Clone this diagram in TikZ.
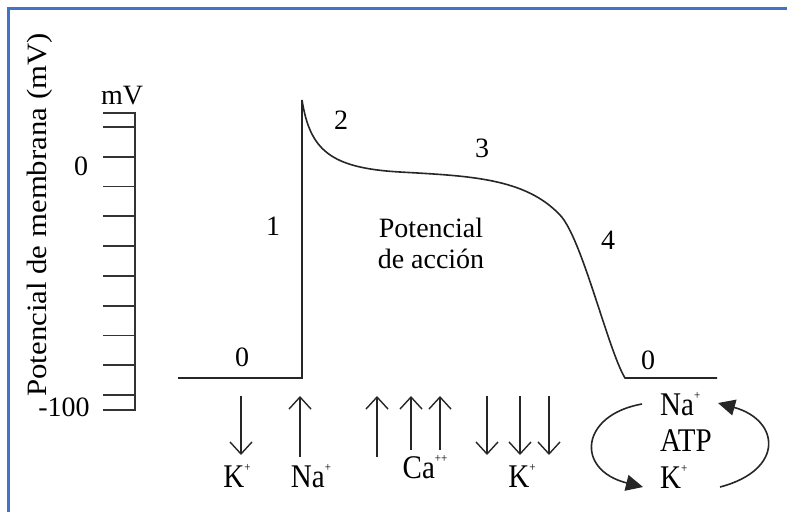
\documentclass[tikz,border=0pt]{standalone}
\usepackage{fontspec}
\setmainfont{Liberation Serif}
\usepackage{graphicx}
\usetikzlibrary{arrows.meta,positioning}

\definecolor{framebl}{RGB}{68,114,196}
\newcommand{\ionp}[1]{#1\raisebox{1.05ex}{\fontsize{11}{11}\selectfont +}}
\newcommand{\ionlbl}[1]{\scalebox{1}[1.14]{#1}}

\begin{document}
\begin{tikzpicture}[
    x=1pt, y=-1pt,
    lbl/.style={inner sep=0pt, font=\fontsize{28}{31}\selectfont},
    ionlab/.style={inner sep=0pt, font=\fontsize{29}{31}\selectfont},
    wave/.style={line width=1.6pt, draw=black!85},
    axisline/.style={line width=1.8pt, draw=black!80},
    ionarr/.style={-{Straight Barb[length=12pt, width=22pt, line width=1.4pt]}, line width=1.4pt, draw=black!85},
    pumparr/.style={-{Triangle[length=17pt, width=16pt]}, line width=1.6pt, draw=black!85}
]
    \useasboundingbox (0,0) rectangle (787,512);
    % frame
    \draw[framebl, line width=3pt] (8,512) -- (8,8) -- (787,8);

    % scale
    \draw[axisline] (103,113) -- (135,113) -- (135,410) -- (103,410);
    \foreach \i in {0,...,9}
        \draw[axisline] (103,127+\i*29.78) -- (135,127+\i*29.78);
    \node[lbl] (mv) at (122,96) {mV};
    \node[lbl] (zero) at (81,166) {0};
    \node[lbl] (minus) at (64,407) {-100};
    \node[lbl, rotate=90] (ylab) at (40,215) {\scalebox{1.1}[1]{Potencial de membrana (mV)}};

    % action potential
    \draw[wave] (178,378) -- (302,378) -- (302,100)
        .. controls (310,150) and (330,168) .. (400,172)
        .. controls (470,176) and (525,178) .. (560,215)
        .. controls (582,238) and (608,350) .. (625,378) -- (717,378);

    \node[lbl] (ph0a) at (242,357) {0};
    \node[lbl] (ph1) at (273,226) {1};
    \node[lbl] (ph2) at (341,120) {2};
    \node[lbl] (ph3) at (482,148) {3};
    \node[lbl] (ph4) at (608,240) {4};
    \node[lbl] (ph0b) at (648,360) {0};
    \node[lbl, align=center] (apot) at (431,243) {Potencial\\de acción};

    % ion currents
    \foreach \x in {241,487,520,549}
        \draw[ionarr] (\x,396) -- (\x,455);
    \foreach \x/\b in {300/457,377/457,411/450,440/450}
        \draw[ionarr] (\x,\b) -- (\x,396);

    \node[ionlab] (kout) at (237,476) {\ionlbl{\ionp{K}}};
    \node[ionlab] (nain) at (311,476) {\ionlbl{\ionp{Na}}};
    \node[ionlab] (cain) at (425,467) {\ionlbl{Ca\raisebox{1.05ex}{\fontsize{11}{11}\selectfont ++}}};
    \node[ionlab] (kout2) at (522,476) {\ionlbl{\ionp{K}}};

    % pump
    \node[ionlab, anchor=west] (naP) at (660,404) {\ionlbl{\ionp{Na}}};
    \node[ionlab, anchor=west] (atp) at (660,441) {\ionlbl{ATP}};
    \node[ionlab, anchor=west] (kP) at (660,477) {\ionlbl{\ionp{K}}};

    \coordinate (pumpL1) at (642,404);
    \coordinate (pumpL2) at (643,487);
    \coordinate (pumpR1) at (720,487);
    \coordinate (pumpR2) at (718,403);
    \draw[pumparr] (pumpL1) .. controls (580,415) and (575,470) .. (pumpL2);
    \draw[pumparr] (pumpR1) .. controls (785,470) and (780,420) .. (pumpR2);
\end{tikzpicture}
\end{document}
